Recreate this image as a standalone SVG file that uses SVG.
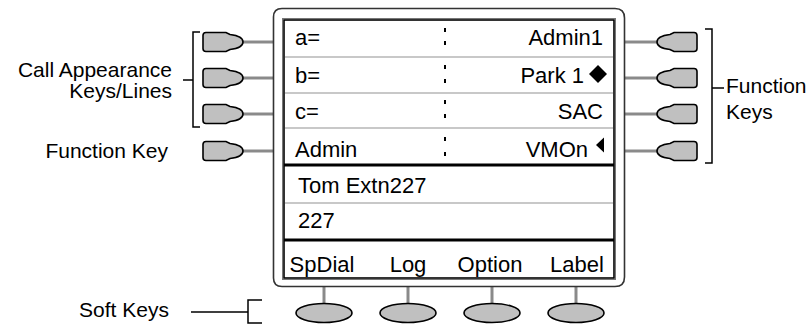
<svg xmlns="http://www.w3.org/2000/svg" width="810" height="325" viewBox="0 0 810 325">
<style>
.lbl{font-family:"Liberation Sans",Arial,sans-serif;font-size:21px;fill:#000}
.scr{font-family:"Liberation Sans",Arial,sans-serif;font-size:22px;fill:#000}
.key{fill:#c0c0c0;stroke:#000;stroke-width:1.6}
.stem{stroke:#8a8a8a;stroke-width:3;fill:none}
.sep{stroke:#c8c8c8;stroke-width:2}
.thick{stroke:#000;stroke-width:3}
.brk{stroke:#000;stroke-width:1.5;fill:none}
.dot{fill:#000}
</style>
<defs>
<path id="lkey" d="M206,-9.5 H226 L230,-7.5 Q243,-6 243,0 Q243,6 230,7.5 L226,9.5 H206 Q203,9.5 203,6.5 V-6.5 Q203,-9.5 206,-9.5 Z"/>
<path id="rkey" d="M694,-9.5 H674 L670,-7.5 Q657,-6 657,0 Q657,6 670,7.5 L674,9.5 H694 Q697,9.5 697,6.5 V-6.5 Q697,-9.5 694,-9.5 Z"/>
</defs>

<g id="connectors">
<line class="stem" x1="243" y1="42" x2="273" y2="42"/>
<line class="stem" x1="243" y1="78" x2="273" y2="78"/>
<line class="stem" x1="243" y1="114" x2="273" y2="114"/>
<line class="stem" x1="243" y1="151" x2="273" y2="151"/>
<line class="stem" x1="625" y1="42" x2="657" y2="42"/>
<line class="stem" x1="625" y1="78" x2="657" y2="78"/>
<line class="stem" x1="625" y1="114" x2="657" y2="114"/>
<line class="stem" x1="625" y1="151" x2="657" y2="151"/>
<line class="stem" x1="324" y1="287" x2="324" y2="303"/>
<line class="stem" x1="408" y1="287" x2="408" y2="303"/>
<line class="stem" x1="492" y1="287" x2="492" y2="303"/>
<line class="stem" x1="576" y1="287" x2="576" y2="303"/>
</g>

<g id="phone">
<path d="M282,8.5 H615 Q624.5,8.5 624.5,18 V277 Q624.5,286.5 615,286.5 H282 Q273.5,286.5 273.5,278 V17 Q273.5,8.5 282,8.5 Z" fill="#fff" stroke="#333" stroke-width="1.6"/>
<rect x="282.5" y="18.5" width="333" height="261" fill="#fff" stroke="#777" stroke-width="1"/>
<rect x="284" y="20" width="330" height="258" fill="none" stroke="#000" stroke-width="1.6"/>
</g>

<g id="screen">
<line class="sep" x1="285" y1="57" x2="613" y2="57"/>
<line class="sep" x1="285" y1="93" x2="613" y2="93"/>
<line class="sep" x1="285" y1="128" x2="613" y2="128"/>
<line class="thick" x1="284" y1="165" x2="614" y2="165"/>
<line class="sep" x1="285" y1="203" x2="613" y2="203"/>
<line class="thick" x1="284" y1="240" x2="614" y2="240"/>
<rect class="dot" x="444" y="28" width="2" height="4"/><rect class="dot" x="444" y="41" width="2" height="4"/>
<rect class="dot" x="444" y="65" width="2" height="4"/><rect class="dot" x="444" y="79" width="2" height="4"/>
<rect class="dot" x="444" y="100" width="2" height="4"/><rect class="dot" x="444" y="114" width="2" height="4"/>
<rect class="dot" x="444" y="137" width="2" height="4"/><rect class="dot" x="444" y="152" width="2" height="4"/>
<text class="scr" x="295" y="45">a=</text>
<text class="scr" x="295" y="83">b=</text>
<text class="scr" x="295" y="119">c=</text>
<text class="scr" x="295" y="157">Admin</text>
<text class="scr" x="603" y="45" text-anchor="end">Admin1</text>
<text class="scr" x="584" y="83" text-anchor="end">Park 1</text>
<polygon points="598,65 607,74 598,83 589,74" fill="#000"/>
<text class="scr" x="603" y="119" text-anchor="end">SAC</text>
<text class="scr" x="588" y="157" text-anchor="end">VMOn</text>
<polygon points="596,145 604,137.5 604,152.5" fill="#000"/>
<text class="scr" x="298" y="193">Tom Extn227</text>
<text class="scr" x="298" y="228">227</text>
<text class="scr" x="322" y="272" text-anchor="middle">SpDial</text>
<text class="scr" x="408" y="272" text-anchor="middle">Log</text>
<text class="scr" x="490" y="272" text-anchor="middle">Option</text>
<text class="scr" x="577" y="272" text-anchor="middle">Label</text>
</g>

<g id="left-keys">
<use href="#lkey" class="key" y="42"/>
<use href="#lkey" class="key" y="78"/>
<use href="#lkey" class="key" y="114"/>
<use href="#lkey" class="key" y="151"/>
</g>
<g id="right-keys">
<use href="#rkey" class="key" y="42"/>
<use href="#rkey" class="key" y="78"/>
<use href="#rkey" class="key" y="114"/>
<use href="#rkey" class="key" y="151"/>
</g>
<g id="soft-keys">
<ellipse class="key" cx="324" cy="313" rx="28" ry="9.5"/>
<ellipse class="key" cx="408" cy="313" rx="28" ry="9.5"/>
<ellipse class="key" cx="492" cy="313" rx="28" ry="9.5"/>
<ellipse class="key" cx="576" cy="313" rx="28" ry="9.5"/>
</g>

<g id="label-call-appearance">
<path class="brk" d="M200,32 H193 V127 H200 M193,80 H183"/>
<text class="lbl" x="172" y="77" text-anchor="end">Call Appearance</text>
<text class="lbl" x="172" y="98" text-anchor="end">Keys/Lines</text>
</g>
<g id="label-function-key">
<text class="lbl" x="168" y="158" text-anchor="end">Function Key</text>
</g>
<g id="label-function-keys">
<path class="brk" d="M705,29 H712 V163 H705 M712,88 H724"/>
<text class="lbl" x="726" y="93">Function</text>
<text class="lbl" x="726" y="119">Keys</text>
</g>
<g id="label-soft-keys">
<path class="brk" d="M191,312 H248 M262,300 H248 V323 H262"/>
<text class="lbl" x="79" y="317">Soft Keys</text>
</g>
</svg>
